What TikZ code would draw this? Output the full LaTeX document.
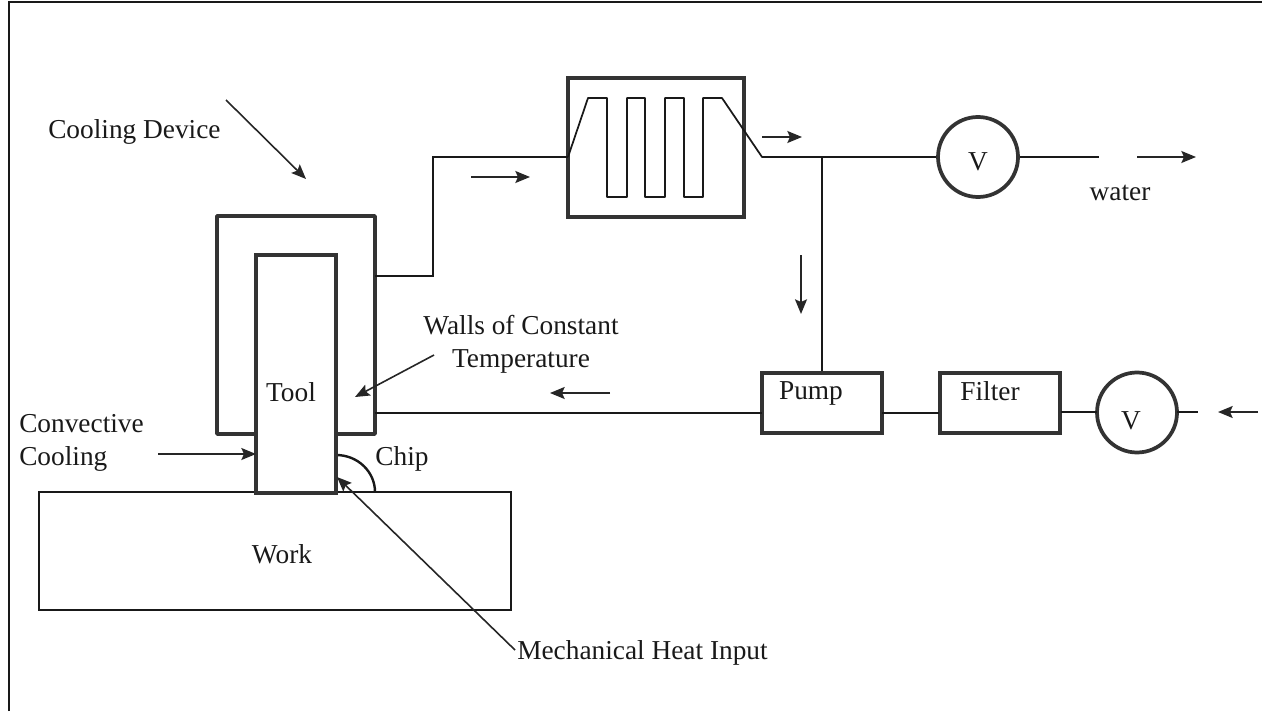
\documentclass[tikz,border=0pt]{standalone}
\usepackage{fontspec}
\setmainfont{Liberation Serif}
\usetikzlibrary{arrows.meta}
\tikzset{
  wall/.style={draw=black!80,line width=2.8pt},
  pipe/.style={draw=black!90,line width=1.3pt},
  flow/.style={draw=black!85,line width=1.2pt,-{Stealth[length=11pt,width=9pt,inset=2pt]}},
  unitbox/.style={wall,rectangle,inner sep=0pt,minimum width=90pt,minimum height=45pt},
  valve/.style={wall,circle,inner sep=0pt,minimum size=60pt},
  txt/.style={inner sep=0.75pt,font=\fontsize{20.5}{25}\selectfont,text=black!90}
}
\begin{document}
\begin{tikzpicture}[x=0.75pt,y=0.75pt,yscale=-1,xscale=1]
\useasboundingbox (0,0) rectangle (1262,713);

%Frame
\coordinate (fa) at (9,711);
\coordinate (fb) at (9,2);
\coordinate (fc) at (1262,2);
\draw [pipe] (fa) -- (fb) -- (fc) ;

%Shape: Work
\node (work) [draw=black!90,line width=1.4pt,rectangle,inner sep=0pt,minimum width=354pt,minimum height=88.5pt] at (275,551) {};
%Shape: Chip
\coordinate (chipa) at (336,455);
\coordinate (chipb) at (375,492);
\draw [pipe,line width=1.8pt] (chipa) .. controls (358,455) and (375,472) .. (chipb) ;

%Shape: Jacket
\coordinate (ja) at (256,434);
\coordinate (jb) at (217,434);
\coordinate (jc) at (217,216);
\coordinate (jd) at (375,216);
\coordinate (je) at (375,434);
\coordinate (jf) at (336,434);
\draw [wall,line join=round] (ja) -- (jb) -- (jc) -- (jd) -- (je) -- (jf) ;
%Shape: Tool
\node (tool) [wall,rectangle,fill=white,inner sep=0pt,minimum width=60pt,minimum height=179pt] at (296,374) {};

%Shape: Exchanger
\node (exch) [wall,rectangle,inner sep=0pt,minimum width=132pt,minimum height=104.5pt] at (656,147.5) {};
%Shape: Units
\node (pump) [unitbox] at (822,403) {};
\node (filter) [unitbox] at (1000,403) {};
\node (vtop) [valve] at (978,157) {};
\node (vbot) [valve] at (1137,412.5) {};

%Straight Lines: pipes
\coordinate (jo) at (375,276);
\coordinate (jk) at (433,276);
\coordinate (ji) at (433,157);
\coordinate (ex) at (568,157);
\coordinate (tee) at (822,157);
\coordinate (wout) at (1099,157);
\coordinate (ret) at (375,413);
\coordinate (pin) at (762,413);
\coordinate (pout) at (882,413);
\coordinate (fin) at (939,413);
\coordinate (fout) at (1061,412);
\coordinate (vin) at (1097,412);
\coordinate (vout) at (1177,412);
\coordinate (wend) at (1198,412);
\draw [pipe] (jo) -- (jk) -- (ji) -- (ex) ;
\draw [pipe] (tee) -- (pump.north) ;
\draw [pipe] (ret) -- (pin) ;
\draw [pipe] (pout) -- (fin) ;
\draw [pipe] (fout) -- (vin) ;
\draw [pipe] (vout) -- (wend) ;
\draw [pipe] (vtop) -- (wout) ;

%Coil
\coordinate (coilout) at (762,157);
\draw [pipe,line join=round] (ex) -- (588,98) -- (607,98) -- (607,197) -- (627,197) -- (627,98) -- (645,98) -- (645,197) -- (665,197) -- (665,98) -- (684,98) -- (684,197) -- (703,197) -- (703,98) -- (722,98) -- (coilout) -- (vtop) ;

%Arrows
\coordinate (aa) at (226,100);
\coordinate (ab) at (306,179);
\draw [flow] (aa) -- (ab) ;
\coordinate (ba) at (471,177);
\coordinate (bb) at (530,177);
\draw [flow] (ba) -- (bb) ;
\coordinate (ca) at (762,137);
\coordinate (cb) at (802,137);
\draw [flow] (ca) -- (cb) ;
\coordinate (da) at (1137,157);
\coordinate (db) at (1196,157);
\draw [flow] (da) -- (db) ;
\coordinate (ea) at (801,255);
\coordinate (eb) at (801,314);
\draw [flow] (ea) -- (eb) ;
\coordinate (ga) at (610,393);
\coordinate (gb) at (550,393);
\draw [flow] (ga) -- (gb) ;
\coordinate (ha) at (1258,412);
\coordinate (hb) at (1218,412);
\draw [flow] (ha) -- (hb) ;
\coordinate (ka) at (434,355);
\coordinate (kb) at (355,397);
\draw [flow] (ka) -- (kb) ;
\coordinate (la) at (158,454);
\coordinate (lb) at (256,454);
\draw [flow] (la) -- (lb) ;
\coordinate (ma) at (515,650);
\coordinate (mb) at (337,477);
\draw [flow] (ma) -- (mb) ;

% Text Node
\node (tcool) [txt,anchor=west] at (47,132) {Cooling Device};
% Text Node
\node (twalls) [txt,align=center] at (521,344) {Walls of Constant\\Temperature};
% Text Node
\node (ttool) [txt] at (291,392) {Tool};
% Text Node
\node (tconv) [txt,anchor=west,align=left] at (18,443) {Convective\\Cooling};
% Text Node
\node (tchip) [txt] at (402,459) {Chip};
% Text Node
\node (twork) [txt] at (282,554) {Work};
% Text Node
\node (tmech) [txt,anchor=west] at (516,653) {Mechanical Heat Input};
% Text Node
\node (tpump) [txt] at (811,393) {Pump};
% Text Node
\node (tfilter) [txt] at (990,391) {Filter};
% Text Node
\node (tv) [txt] at (978,162) {V};
% Text Node
\node (tw) [txt] at (1131,421) {V};
% Text Node
\node (twater) [txt] at (1120,193) {water};

\end{tikzpicture}
\end{document}
